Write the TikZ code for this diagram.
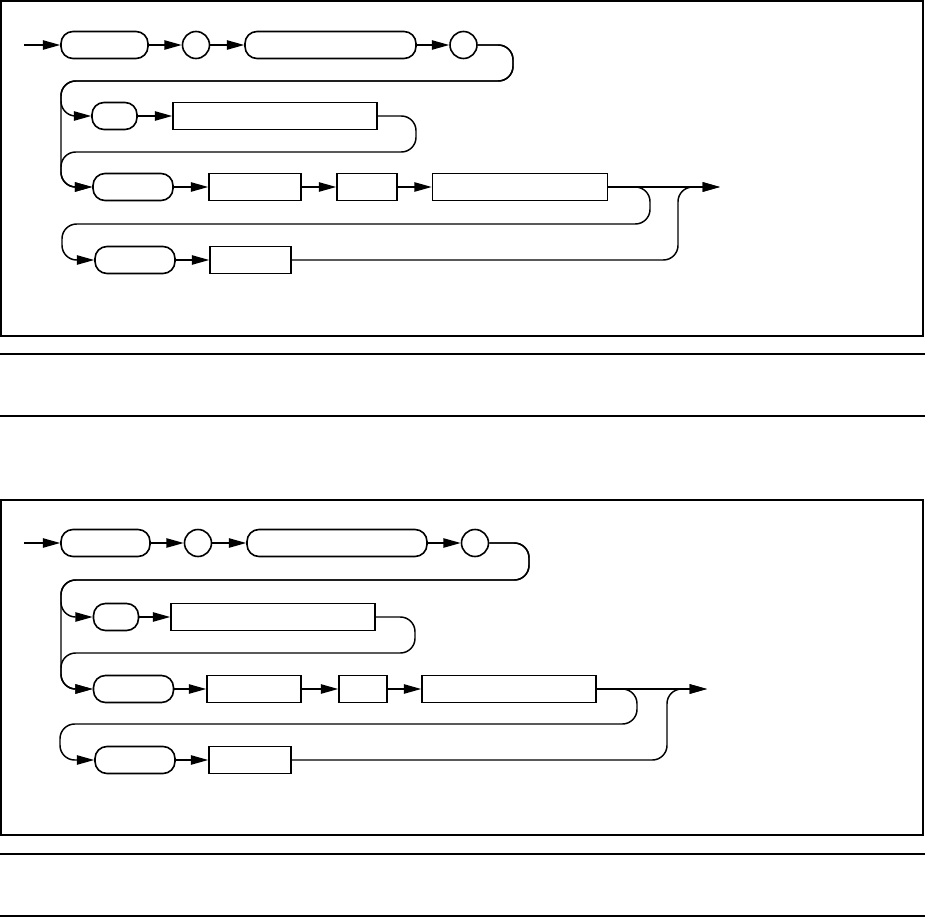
\documentclass[tikz,border=0pt]{standalone}
\usetikzlibrary{arrows.meta}
\tikzset{
  term/.style={draw, line width=1.2pt, rounded corners=9pt, minimum width=#1*0.75pt, minimum height=20.25pt, inner sep=0pt},
  nonterm/.style={draw, line width=1.2pt, minimum width=#1*0.75pt, minimum height=20pt, inner sep=0pt},
  lit/.style={draw, line width=1.2pt, circle, minimum size=20.25pt, inner sep=0pt},
  flow/.style={line width=1.1pt, -{Triangle[length=13pt,width=7pt]}},
  track/.style={line width=1.1pt, rounded corners=11pt},
}
\begin{document}
\begin{tikzpicture}[x=0.75pt, y=-0.75pt]
  \useasboundingbox (0,0) rectangle (925,917);
  % frames and rules
  \draw[line width=1.1pt] (1,1) rectangle (923,336);
  \draw[line width=1.1pt] (1,500) rectangle (923,835);
  \draw[line width=1.1pt] (0,354) -- (925,354);
  \draw[line width=1.1pt] (0,416) -- (925,416);
  \draw[line width=1.1pt] (0,854) -- (925,854);
  \draw[line width=1.1pt] (0,916) -- (925,916);

  % upper diagram
  \coordinate (ain) at (24,45);
  \coordinate (aout) at (720,187);
  \node[term=87] (a1) at (104.5,45) {};
  \node[lit] (a2) at (196,45) {};
  \node[term=171] (a3) at (330.5,45) {};
  \node[lit] (a4) at (463.5,45) {};
  \node[term=45] (a5) at (114.5,116) {};
  \node[nonterm=204] (a6) at (275,116) {};
  \node[term=80] (a7) at (133,187) {};
  \node[nonterm=92] (a8) at (255,187) {};
  \node[nonterm=60] (a9) at (367,187) {};
  \node[nonterm=175] (a10) at (520,187) {};
  \node[term=80] (a11) at (135,260) {};
  \node[nonterm=81] (a12) at (250.5,260) {};
  \draw[flow] (ain) -- (a1);
  \foreach \s/\t in {a1/a2, a2/a3, a3/a4, a5/a6, a7/a8, a8/a9, a9/a10, a11/a12}
    \draw[flow] (\s) -- (\t);
  \draw[flow] (a10) -- (aout);
  \draw[track, flow] (a4.east) -- (513,45) -- (513,81) -- (61,81) -- (61,116) -- (a5.west);
  \draw[track, flow] (a4.east) -- (513,45) -- (513,81) -- (61,81) -- (61,187) -- (a7.west);
  \draw[track, flow] (a6.east) -- (416,116) -- (416,152) -- (61,152) -- (61,187) -- (a7.west);
  \draw[track, flow] (a10.east) -- (650,187) -- (650,224) -- (62,224) -- (62,260) -- (a11.west);
  \draw[track, flow] (a12.east) -- (678,260) -- (678,187) -- (aout);

  % lower diagram
  \coordinate (bin) at (24,543);
  \coordinate (bout) at (707,689);
  \node[term=89] (b1) at (105.5,543) {};
  \node[lit] (b2) at (198,543) {};
  \node[term=180] (b3) at (337,543) {};
  \node[lit] (b4) at (475,543) {};
  \node[term=45] (b5) at (116,617) {};
  \node[nonterm=204] (b6) at (273,617) {};
  \node[term=80] (b7) at (133.5,689) {};
  \node[nonterm=94] (b8) at (254,689) {};
  \node[nonterm=48] (b9) at (363,689) {};
  \node[nonterm=174] (b10) at (509,689) {};
  \node[term=80] (b11) at (135,760) {};
  \node[nonterm=82] (b12) at (250,760) {};
  \draw[flow] (bin) -- (b1);
  \foreach \s/\t in {b1/b2, b2/b3, b3/b4, b5/b6, b7/b8, b8/b9, b9/b10, b11/b12}
    \draw[flow] (\s) -- (\t);
  \draw[flow] (b10) -- (bout);
  \draw[track, flow] (b4.east) -- (529,543) -- (529,580) -- (61,580) -- (61,617) -- (b5.west);
  \draw[track, flow] (b4.east) -- (529,543) -- (529,580) -- (61,580) -- (61,689) -- (b7.west);
  \draw[track, flow] (b6.east) -- (415,617) -- (415,653) -- (61,653) -- (61,689) -- (b7.west);
  \draw[track, flow] (b10.east) -- (637,689) -- (637,724) -- (60,724) -- (60,760) -- (b11.west);
  \draw[track, flow] (b12.east) -- (667,760) -- (667,689) -- (bout);
\end{tikzpicture}
\end{document}
